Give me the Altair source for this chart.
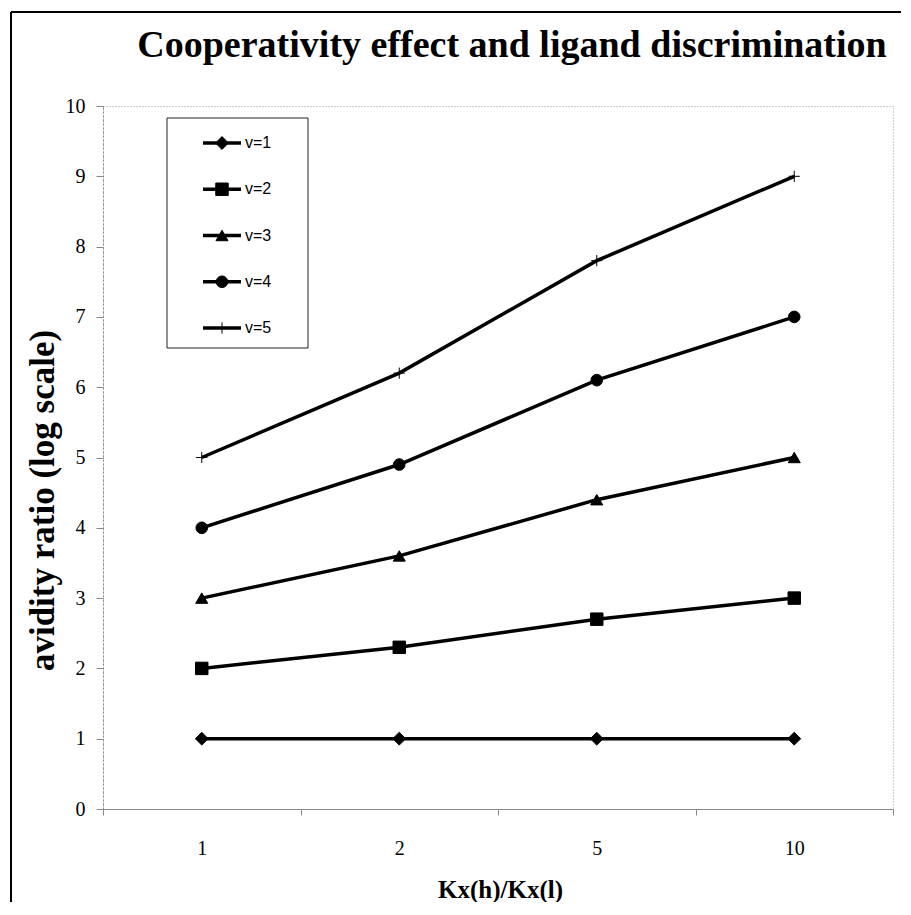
import altair as alt
import pandas as pd

# ---- data ----
title_text = "Cooperativity effect and ligand discrimination"
categories = ["1", "2", "5", "10"]
series = ["v=1", "v=2", "v=3", "v=4", "v=5"]
v1 = [1.0, 1.0, 1.0, 1.0]
v2 = [2.0, 2.3, 2.7, 3.0]
v3 = [3.0, 3.6, 4.4, 5.0]
v4 = [4.0, 4.9, 6.1, 7.0]
v5 = [5.0, 6.2, 7.8, 9.0]
values = [v1, v2, v3, v4, v5]
y_ticks = list(range(0, 11))

rows = [
    {"ratio": c, "series": s, "value": v}
    for s, vals in zip(series, values)
    for c, v in zip(categories, vals)
]
df = pd.DataFrame(rows)
legend_df = pd.DataFrame({"series": series})
one = pd.DataFrame({"a": [0]})

shapes = ["diamond", "square", "triangle-up", "circle", "M-1,0H1M0,-1V1"]
sizes = [165, 125, 175, 135, 256]

SERIF = "Liberation Serif"
SANS = "Liberation Sans"
W, H = 790, 703

shape_enc = alt.Shape("series:N", scale=alt.Scale(domain=series, range=shapes), legend=None)
size_enc = alt.Size("series:N", scale=alt.Scale(domain=series, range=sizes), legend=None)

x_enc = alt.X(
    "ratio:N",
    sort=categories,
    scale=alt.Scale(type="band", domain=categories, paddingInner=0, paddingOuter=0),
    bandPosition=0.5,
    axis=alt.Axis(
        title="Kx(h)/Kx(l)",
        titleFont=SERIF, titleFontSize=25, titleFontWeight="bold", titleColor="black",
        titleX=397, titleY=80, titleBaseline="middle", titleAlign="center",
        labelAngle=0, labelFont=SERIF, labelFontSize=20, labelColor="black",
        labelPadding=23, tickBand="extent", tickSize=6,
        domainColor="#888", tickColor="#888", grid=False,
    ),
)
y_enc = alt.Y(
    "value:Q",
    scale=alt.Scale(domain=[0, 10], nice=False, zero=True),
    axis=alt.Axis(
        values=y_ticks, title="avidity ratio (log scale)",
        titleFont=SERIF, titleFontSize=35, titleFontWeight="bold", titleColor="black",
        titleAngle=270, titleX=-61, titleY=394, titleAlign="center", titleBaseline="middle",
        labelFont=SERIF, labelFontSize=20, labelColor="black", labelPadding=11,
        tickSize=7, domainColor="#888", domainDash=[2, 2], tickColor="#888", grid=False,
    ),
)

lines = alt.Chart(df).mark_line(color="black", strokeWidth=3.5).encode(
    x=x_enc, y=y_enc, detail="series:N"
)
points = alt.Chart(df).mark_point(
    filled=True, color="black", stroke="black", strokeWidth=1, opacity=1
).encode(x=x_enc, y=y_enc, shape=shape_enc, size=size_enc)
main = alt.layer(lines, points)

# outer frame (left and top edges visible in the reference)
frame_left = alt.Chart(one).mark_rule(color="black", strokeWidth=2).encode(
    x=alt.value(-92), y=alt.value(-94), y2=alt.value(800)
)
frame_top = alt.Chart(one).mark_rule(color="black", strokeWidth=2).encode(
    x=alt.value(-92), x2=alt.value(798), y=alt.value(-94)
)

title = alt.Chart(one).mark_text(
    font=SERIF, fontSize=38, fontWeight="bold", color="black",
    align="center", baseline="alphabetic",
).encode(x=alt.value(W / 2 + 14), y=alt.value(-49), text=alt.value(title_text))

legend_box = alt.Chart(one).mark_rect(fill="white", stroke="#222", strokeWidth=1).encode(
    x=alt.value(64), x2=alt.value(205), y=alt.value(12), y2=alt.value(242)
)

ly = alt.Y(
    "series:N",
    scale=alt.Scale(type="point", domain=series, range=[37, 222], padding=0),
    axis=None,
)
leg_rule = alt.Chart(legend_df).mark_rule(color="black", strokeWidth=3.5).encode(
    x=alt.value(100), x2=alt.value(138), y=ly
)
leg_pts = alt.Chart(legend_df).mark_point(
    filled=True, color="black", stroke="black", strokeWidth=1, opacity=1
).encode(x=alt.value(119), y=ly, shape=shape_enc, size=size_enc)
leg_txt = alt.Chart(legend_df).mark_text(
    align="left", baseline="middle", font=SANS, fontSize=16, color="black"
).encode(x=alt.value(142), y=ly, text="series:N")
legend = alt.layer(leg_rule, leg_pts, leg_txt)

chart = (
    alt.layer(frame_left, frame_top, title, main, legend_box, legend)
    .resolve_scale(y="independent")
    .properties(
        width=W,
        height=H,
        autosize=alt.AutoSizeParams(type="none"),
        padding={"left": 95, "top": 98, "right": 8, "bottom": 93},
        background="white",
    )
    .configure_view(stroke="#999", strokeDash=[1, 2], strokeWidth=1)
)

chart.save("out.html", embed_options={"renderer": "svg", "actions": False})
